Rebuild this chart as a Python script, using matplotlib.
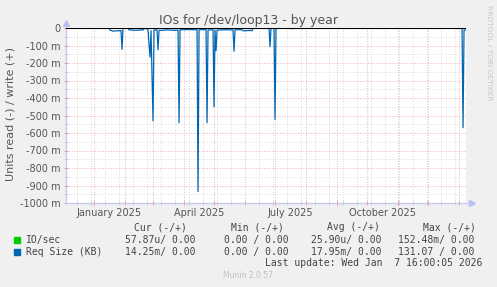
import datetime as dt
import matplotlib
matplotlib.use("Agg")
import matplotlib.pyplot as plt
import matplotlib.dates as mdates
from matplotlib.ticker import FixedLocator, FuncFormatter

# Req Size (KB), read side (drawn negative)
read_dates = [
    "2024-12-03 16:00", "2025-01-16", "2025-01-17", "2025-01-20", "2025-01-24",
    "2025-01-28", "2025-01-29", "2025-01-30", "2025-02-04", "2025-02-05",
    "2025-02-12", "2025-02-19", "2025-02-20", "2025-02-23", "2025-02-24",
    "2025-02-26", "2025-02-27", "2025-03-01", "2025-03-02", "2025-03-05",
    "2025-03-06", "2025-03-07", "2025-03-15", "2025-03-22", "2025-03-26",
    "2025-03-27", "2025-03-28", "2025-04-05", "2025-04-14", "2025-04-15",
    "2025-04-16", "2025-04-23", "2025-04-24", "2025-04-25", "2025-04-30",
    "2025-05-01", "2025-05-02", "2025-05-03", "2025-05-04", "2025-05-12",
    "2025-05-20", "2025-05-21", "2025-05-22", "2025-05-29", "2025-05-30",
    "2025-06-06", "2025-06-08", "2025-06-09", "2025-06-25", "2025-06-26",
    "2025-06-27", "2025-06-30", "2025-07-01", "2025-07-02", "2025-07-17",
    "2025-07-18", "2025-07-19", "2026-01-04", "2026-01-05", "2026-01-06",
    "2026-01-07 16:00",
]
read_values = [
    0.0, 0.0, -0.012, -0.018, -0.016,
    -0.015, -0.122, 0.0, 0.0, -0.011,
    -0.013, -0.011, -0.003, -0.004, -0.012,
    -0.167, -0.015, -0.530, -0.012, -0.010,
    -0.124, -0.014, -0.011, -0.013, -0.012,
    -0.541, -0.010, -0.009, -0.010, -0.935,
    -0.010, -0.009, -0.541, -0.011, -0.010,
    -0.450, -0.012, -0.130, -0.012, -0.010,
    -0.011, -0.133, -0.010, -0.010, -0.016,
    -0.014, -0.016, 0.0, 0.0, -0.107,
    0.0, 0.0, -0.522, 0.0, 0.0,
    -0.005, 0.0, 0.0, -0.570, -0.012,
    -0.012,
]

month_labels = ["January 2025", "April 2025", "July 2025", "October 2025"]
month_label_dates = ["2025-01-16", "2025-04-16", "2025-07-16", "2025-10-16"]

legend_header = ["Cur (-/+)", "Min (-/+)", "Avg (-/+)", "Max (-/+)"]
legend_names = ["IO/sec", "Req Size (KB)"]
legend_colors = ["#00cc00", "#0066b3"]
legend_rows = [
    ["57.87u/ 0.00", "0.00 / 0.00", "25.90u/ 0.00", "152.48m/ 0.00"],
    ["14.25m/ 0.00", "0.00 / 0.00", "17.95m/ 0.00", "131.07 / 0.00"],
]
last_update = "Last update: Wed Jan  7 16:00:05 2026"


def d(s):
    return dt.datetime.fromisoformat(s)


W, H = 497, 287
fig = plt.figure(figsize=(W / 100, H / 100), dpi=100, facecolor="#f0f0f0")
left, right, top, bottom = 65.7, 465.7, 28, 203
ax = fig.add_axes([left / W, 1 - bottom / H, (right - left) / W, (bottom - top) / H])
ax.set_facecolor("white")

t_end = d("2026-01-07 16:00")
t_start = t_end - dt.timedelta(days=400)
ax.set_xlim(t_start, t_end)
ax.set_ylim(-1.0, 0.0)

# grid: months (major, red), every 14 days (minor, gray)
months = [dt.datetime(2025, m, 1) for m in range(1, 13)] + [dt.datetime(2026, 1, 1)]
sundays = []
s = dt.datetime(2024, 12, 15)
while s < t_end:
    sundays.append(s)
    s += dt.timedelta(days=14)
ax.xaxis.set_major_locator(FixedLocator(mdates.date2num(months)))
ax.xaxis.set_minor_locator(FixedLocator(mdates.date2num(sundays)))
ax.yaxis.set_major_locator(FixedLocator([-i / 10 for i in range(11)]))
ax.yaxis.set_minor_locator(FixedLocator([-0.05 - i / 10 for i in range(10)]))
ax.set_xticklabels([])


def yfmt(v, pos):
    m = round(v * 1000)
    return "0" if m == 0 else "%d m" % m


ax.yaxis.set_major_formatter(FuncFormatter(yfmt))
dots = (0, (1, 1.6))
ax.grid(which="major", color="#f2b4b4", linestyle=dots, linewidth=0.72)
ax.grid(which="minor", color="#dedede", linestyle=dots, linewidth=0.72)
ax.set_axisbelow(True)
ax.tick_params(which="major", axis="both", direction="inout", length=3,
               width=0.72, color="#e89090")
ax.tick_params(which="minor", axis="both", direction="inout", length=3,
               width=0.72, color="#cccccc")
ax.tick_params(axis="y", labelsize=7, labelcolor="#555555", pad=2)

for sp in ("top", "right"):
    ax.spines[sp].set_visible(False)
for sp in ("left", "bottom"):
    ax.spines[sp].set_color("#c4c8f0")
    ax.spines[sp].set_linewidth(0.9)
# axis arrows
ax.plot([0, 0], [1, 1.03], color="#c4c8f0", lw=0.9, transform=ax.transAxes, clip_on=False)
ax.plot([1, 1.015], [0, 0], color="#c4c8f0", lw=0.9, transform=ax.transAxes, clip_on=False)
ax.plot([0], [1.03], marker="^", ms=4, color="#b8c0f4", transform=ax.transAxes, clip_on=False)
ax.plot([1.015], [0], marker=">", ms=4, color="#b8c0f4", transform=ax.transAxes, clip_on=False)

ax.plot([d(x) for x in read_dates], read_values, color="#0066b3", lw=0.9, zorder=3)
ax.axhline(0, color="black", lw=0.8, zorder=4)

for lab, ds in zip(month_labels, month_label_dates):
    ax.text(d(ds), -0.055, lab, transform=ax.get_xaxis_transform(), ha="center",
            va="center", fontsize=7, color="#555555")

fig.text(248.3 / W, 1 - 24 / H, "IOs for /dev/loop13 - by year", ha="center",
         va="baseline", fontsize=9, color="#555555")
fig.text(10.5 / W, 1 - 114.3 / H, "Units read (-) / write (+)", rotation=90,
         ha="center", va="center", fontsize=8, color="#555555")
fig.text(488.5 / W, 1 - 53 / H, "RRDTOOL / TOBI OETIKER", rotation=270,
         ha="center", va="center", fontsize=5.4, color="#c8c8c8")

mono = "DejaVu Sans Mono"
hdr_x = [134, 231, 327, 423]
for hx, h in zip(hdr_x, legend_header):
    fig.text(hx / W, 1 - 227.3 / H, h, ha="left", va="center", fontsize=7,
             family=mono, color="#444444")
val_x = [125, 224, 311, 398]
row_y = [239.7, 251.7]
for ry, name, col, vals in zip(row_y, legend_names, legend_colors, legend_rows):
    fig.patches.append(plt.Rectangle((14 / W, 1 - (ry + 3) / H), 6 / W, 6 / H,
                                     transform=fig.transFigure, color=col))
    fig.text(26 / W, 1 - ry / H, name, ha="left", va="center", fontsize=7,
             family=mono, color="#444444")
    for vx, v in zip(val_x, vals):
        fig.text(vx / W, 1 - ry / H, v, ha="left", va="center", fontsize=7,
                 family=mono, color="#444444")
fig.text(482 / W, 1 - 263.3 / H, last_update, ha="right", va="center", fontsize=7,
         family=mono, color="#444444")
fig.text(248 / W, 1 - 276 / H, "Munin 2.0.57", ha="center", va="center",
         fontsize=5.5, color="#c0c0c0")

fig.savefig("out.png", dpi=100, facecolor=fig.get_facecolor())
